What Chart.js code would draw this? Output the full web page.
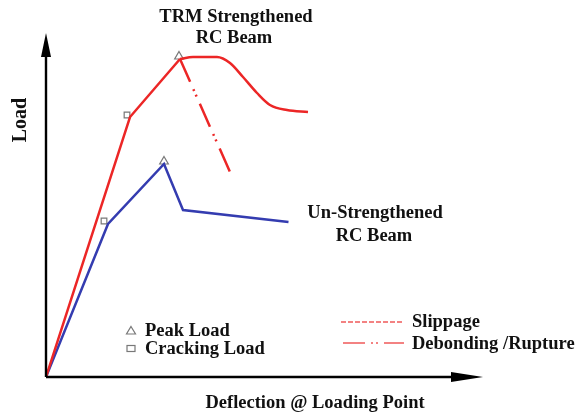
<!DOCTYPE html>
<html>
<head>
<meta charset="utf-8">
<script src="https://cdn.jsdelivr.net/npm/chart.js@4"></script>
<style>
  html, body { margin: 0; padding: 0; background: #fff; }
  #wrap { width: 584px; height: 415px; }
</style>
</head>
<body>
<div id="wrap"><canvas id="c" width="584" height="415"></canvas></div>
<script>
// Schematic load–deflection data (units: arbitrary deflection / load)
const trmRiseX = [0, 84, 134];
const trmRiseY = [0, 260, 318];
const trmPlateauX = [134, 147, 171, 184, 197, 211, 224, 241, 262];
const trmPlateauY = [318, 320, 320, 314, 300, 284, 272, 267, 265];
const trmDebondX = [134, 184];
const trmDebondY = [318, 205];
const unX = [0, 62, 118, 137, 242.5];
const unY = [0, 153, 213, 167, 155];
const peakX = [133, 118];
const peakY = [320.5, 215.5];
const crackX = [81, 58];
const crackY = [262, 156];

const RED = 'rgb(236,38,38)';
const BLUE = 'rgb(52,60,176)';
const GREY = 'rgb(120,120,120)';
const TXT = '#111';
const FONT = 'bold 18.5px "Liberation Serif", "DejaVu Serif", serif';

const pts = (xs, ys) => xs.map((x, i) => ({x, y: ys[i]}));

const decor = {
  id: 'decor',
  afterDatasetsDraw(chart) {
    const ctx = chart.ctx;
    const a = chart.chartArea;
    ctx.save();
    // axes
    ctx.strokeStyle = '#000';
    ctx.fillStyle = '#000';
    ctx.lineWidth = 2.4;
    ctx.beginPath();
    ctx.moveTo(a.left, a.bottom);
    ctx.lineTo(a.left, a.top + 20);
    ctx.moveTo(a.left, a.bottom);
    ctx.lineTo(a.right - 25, a.bottom);
    ctx.stroke();
    // y arrow
    ctx.beginPath();
    ctx.moveTo(a.left, a.top);
    ctx.lineTo(a.left - 5, a.top + 24);
    ctx.lineTo(a.left + 5, a.top + 24);
    ctx.closePath();
    ctx.fill();
    // x arrow
    ctx.beginPath();
    ctx.moveTo(a.right, a.bottom);
    ctx.lineTo(a.right - 32, a.bottom - 5);
    ctx.lineTo(a.right - 32, a.bottom + 5);
    ctx.closePath();
    ctx.fill();

    // texts
    ctx.fillStyle = TXT;
    ctx.font = FONT;
    ctx.textBaseline = 'alphabetic';
    ctx.textAlign = 'center';
    ctx.fillText('TRM Strengthened', 236, 22);
    ctx.fillText('RC Beam', 234, 43);
    ctx.fillText('Un-Strengthened', 375, 218);
    ctx.fillText('RC Beam', 374, 241);
    ctx.fillText('Deflection @ Loading Point', 315, 408);
    ctx.save();
    ctx.translate(26, 120);
    ctx.rotate(-Math.PI / 2);
    ctx.font = 'bold 20px "Liberation Serif", "DejaVu Serif", serif';
    ctx.fillText('Load', 0, 0);
    ctx.restore();

    ctx.textAlign = 'left';
    ctx.fillText('Peak Load', 145, 336);
    ctx.fillText('Cracking Load', 145, 354);
    ctx.fillText('Slippage', 412, 327);
    ctx.fillText('Debonding /Rupture', 412, 349);

    // legend markers
    ctx.strokeStyle = GREY;
    ctx.lineWidth = 1.2;
    ctx.beginPath();
    ctx.moveTo(131, 326.5);
    ctx.lineTo(135.5, 334);
    ctx.lineTo(126.5, 334);
    ctx.closePath();
    ctx.stroke();
    ctx.strokeRect(127, 345.5, 8, 6);

    // legend lines
    ctx.strokeStyle = 'rgb(240,90,90)';
    ctx.lineWidth = 1.5;
    ctx.setLineDash([5, 2]);
    ctx.beginPath();
    ctx.moveTo(341, 322);
    ctx.lineTo(404, 322);
    ctx.stroke();
    ctx.setLineDash([22, 6, 2, 3, 2, 6]);
    ctx.beginPath();
    ctx.moveTo(343, 343);
    ctx.lineTo(404, 343);
    ctx.stroke();
    ctx.restore();
  }
};

new Chart(document.getElementById('c'), {
  type: 'scatter',
  data: {
    datasets: [
      { data: pts(trmRiseX, trmRiseY), showLine: true, borderColor: RED, borderWidth: 2.5, pointRadius: 0, tension: 0 },
      { data: pts(trmPlateauX, trmPlateauY), showLine: true, borderColor: RED, borderWidth: 2.5, pointRadius: 0, cubicInterpolationMode: 'monotone' },
      { data: pts(trmDebondX, trmDebondY), showLine: true, borderColor: RED, borderWidth: 2.5, pointRadius: 0, borderDash: [25, 8, 2, 4, 2, 8] },
      { data: pts(unX, unY), showLine: true, borderColor: BLUE, borderWidth: 2.5, pointRadius: 0, tension: 0 },
      { data: pts(peakX, peakY), showLine: false, pointStyle: 'triangle', pointRadius: 5, borderColor: GREY, borderWidth: 1.2, backgroundColor: 'rgba(255,255,255,0)' },
      { data: pts(crackX, crackY), showLine: false, pointStyle: 'rect', pointRadius: 4, borderColor: GREY, borderWidth: 1.2, backgroundColor: 'rgba(255,255,255,0)' }
    ]
  },
  options: {
    responsive: false,
    animation: false,
    devicePixelRatio: 1,
    layout: { padding: { left: 46, right: 101, top: 33, bottom: 38 } },
    plugins: { legend: { display: false }, tooltip: { enabled: false } },
    scales: {
      x: { type: 'linear', min: 0, max: 437, display: false },
      y: { type: 'linear', min: 0, max: 344, display: false }
    }
  },
  plugins: [decor]
});
</script>
</body>
</html>
